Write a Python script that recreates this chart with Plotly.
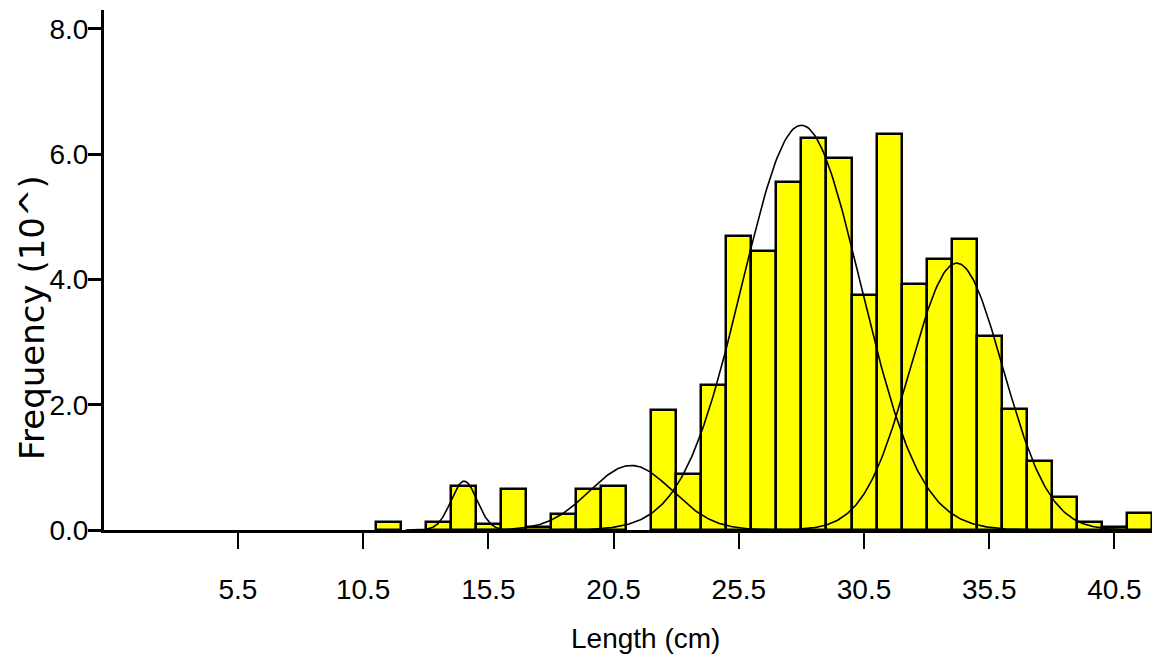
import numpy as np
import plotly.graph_objects as go

# Histogram bins (lower edge, cm) and frequency (x10)
bin_lower = list(range(11, 42))
freq = [0.13, 0.0, 0.12, 0.70, 0.10, 0.65, 0.05, 0.25, 0.65, 0.70,
        0.0, 1.92, 0.89, 2.31, 4.70, 4.45, 5.56, 6.26, 5.93, 3.75,
        6.32, 3.93, 4.32, 4.64, 3.09, 1.93, 1.10, 0.53, 0.13, 0.05, 0.27]

# Fitted normal components: mean, sd, peak height
comp_mean = [14.53, 21.2, 28.0, 34.2]
comp_sd = [0.52, 1.65, 2.37, 1.85]
comp_peak = [0.78, 1.03, 6.46, 4.26]

tick_vals_x = [5.5, 10.5, 15.5, 20.5, 25.5, 30.5, 35.5, 40.5]
tick_text_x = ["5.5", "10.5", "15.5", "20.5", "25.5", "30.5", "35.5", "40.5"]
tick_vals_y = [0, 2, 4, 6, 8]
tick_text_y = ["0.0", "2.0", "4.0", "6.0", "8.0"]

# The page body has an 8px margin; figure is sized to fit inside it.
W, H = 1151, 646
L, T, R, B = 96, 2, 7, 124
PW, PH = W - L - R, H - T - B

fig = go.Figure()

xs = [b + 0.5 for b, f in zip(bin_lower, freq) if f > 0]
ys = [f for f in freq if f > 0]
fig.add_trace(go.Bar(
    x=xs, y=ys, width=1.0,
    marker=dict(color="#FFFF00", line=dict(color="black", width=2.5)),
    hoverinfo="x+y", showlegend=False,
))

for m, s, p in zip(comp_mean, comp_sd, comp_peak):
    cx = np.linspace(max(m - 4.5 * s, 0.2), min(m + 4.5 * s, 41.95), 300)
    cy = p * np.exp(-((cx - m) ** 2) / (2 * s * s))
    fig.add_trace(go.Scatter(x=cx, y=cy, mode="lines",
                             line=dict(color="black", width=1.6),
                             showlegend=False, hoverinfo="skip"))

tick_font = dict(family="Liberation Sans, Arial", size=28, color="black")

fig.update_layout(
    width=W, height=H,
    margin=dict(l=L, r=R, t=T, b=B),
    paper_bgcolor="white", plot_bgcolor="white",
    bargap=0,
    xaxis=dict(range=[0.15, 42.0], showgrid=False, zeroline=False,
               showline=True, linecolor="black", linewidth=3,
               tickmode="array", tickvals=tick_vals_x, ticktext=tick_text_x,
               ticks="outside", ticklen=16, tickwidth=2, tickcolor="black",
               tickfont=tick_font, ticklabelstandoff=16),
    yaxis=dict(range=[0, 8.3], showgrid=False, zeroline=False,
               showline=True, linecolor="black", linewidth=3,
               tickmode="array", tickvals=tick_vals_y, ticktext=tick_text_y,
               ticks="outside", ticklen=13, tickwidth=3, tickcolor="black",
               tickfont=tick_font, ticklabelstandoff=-6),
    annotations=[
        dict(text="Length (cm)", xref="paper", yref="paper",
             x=(637 - L) / PW, y=(PH + T - 630) / PH,
             showarrow=False, xanchor="center", yanchor="middle",
             font=dict(family="Liberation Sans, Arial", size=28, color="black")),
        dict(text="Frequency (10^)", xref="paper", yref="paper",
             x=(24 - L) / PW, y=(PH + T - 310) / PH,
             showarrow=False, xanchor="center", yanchor="middle", textangle=-90,
             font=dict(family="DejaVu Sans, Arial", size=34, color="black")),
    ],
)

fig.write_html("out.html")
